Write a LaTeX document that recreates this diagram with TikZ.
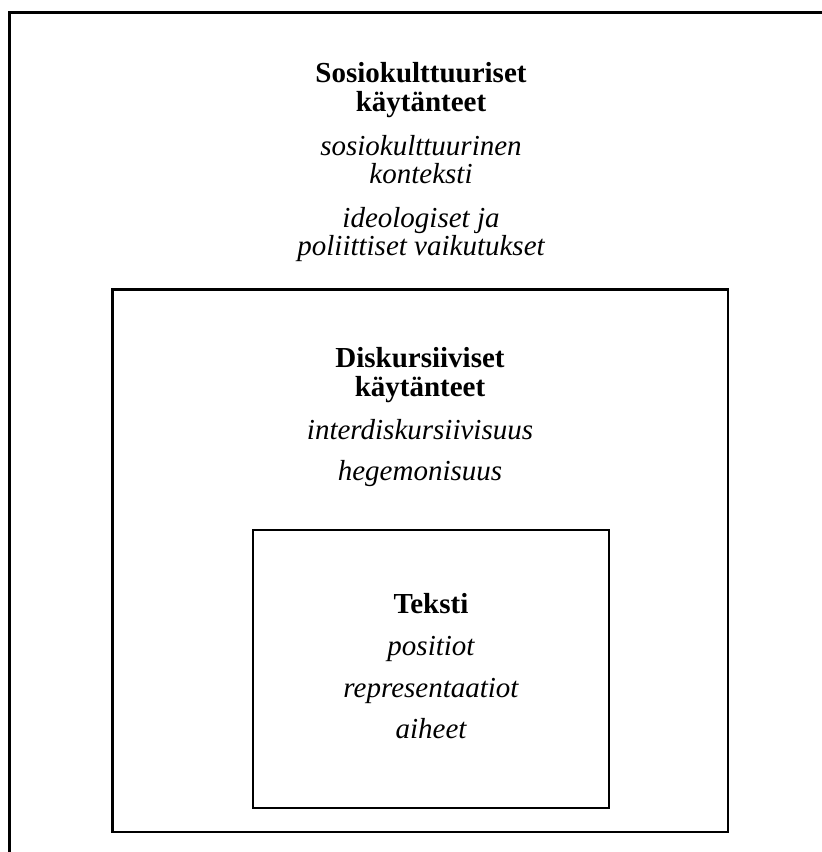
\documentclass[tikz,border=0pt]{standalone}
\usepackage{fontspec}
\setmainfont{Liberation Serif}
\usepackage{tikz}

\tikzset{
	head/.style={anchor=base, font=\fontsize{29}{29}\selectfont\bfseries},
	item/.style={anchor=base, font=\fontsize{29}{29}\selectfont\itshape},
	frame/.style={line width=2.6pt}
}

\begin{document}
\begin{tikzpicture}[x=1pt,y=-1pt]
		\useasboundingbox (0,0) rectangle (822,852);
		\clip (0,0) rectangle (822,852);
		\draw[frame]
			(9.5,12.5) rectangle (840,880)
			(112.5,289.5) rectangle (728,832)
			(253,530) rectangle (609,808)
			;

		\draw
			(421,82) node[head] (socA) {Sosiokulttuuriset}
			(421,111) node[head] (socB) {käytänteet}
			(421,155) node[item] (socC) {sosiokulttuurinen}
			(421,183) node[item] (socD) {konteksti}
			(421,227) node[item] (socE) {ideologiset ja}
			(421,255) node[item] (socF) {poliittiset vaikutukset}

			(420,367) node[head] (disA) {Diskursiiviset}
			(420,396) node[head] (disB) {käytänteet}
			(420,439) node[item] (disC) {interdiskursiivisuus}
			(420,480) node[item] (disD) {hegemonisuus}

			(431,613) node[head] (tekA) {Teksti}
			(431,655) node[item] (tekB) {positiot}
			(431,697) node[item] (tekC) {representaatiot}
			(431,738) node[item] (tekD) {aiheet}
			;
\end{tikzpicture}
\end{document}
